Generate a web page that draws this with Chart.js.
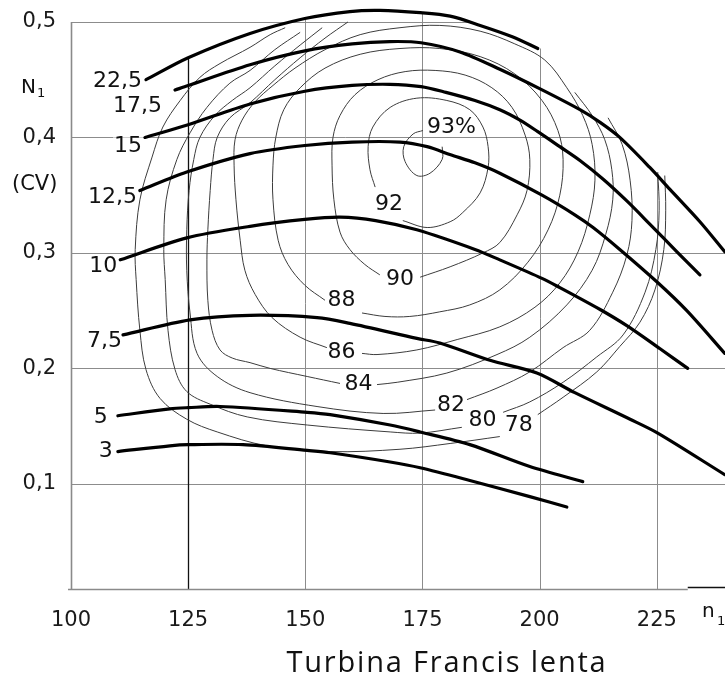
<!DOCTYPE html>
<html>
<head>
<meta charset="utf-8">
<script src="https://cdn.jsdelivr.net/npm/chart.js@4/dist/chart.umd.min.js"></script>
<style>
  html, body { margin: 0; padding: 0; background: #fff; }
  canvas { display: block; }
</style>
</head>
<body>
<canvas id="hill" width="725" height="681"></canvas>
<script>
// ---- axis ticks ----
const xTicks = [100, 125, 150, 175, 200, 225];
const yTicks = [0.1, 0.2, 0.3, 0.4, 0.5];

// ---- constant-opening curves: [n1, N1 (CV)] ----
const open22_5 = [[116.0,0.450],[125.0,0.469],[138.2,0.490],[149.9,0.503],[159.5,0.509],[165.9,0.510],[174.5,0.508],[180.9,0.505],[187.3,0.497],[194.3,0.487],[199.6,0.477]];
const open17_5 = [[122.2,0.441],[125.0,0.445],[138.2,0.463],[149.9,0.475],[160.0,0.481],[168.0,0.483],[174.7,0.482],[183.0,0.474],[191.5,0.459],[200.1,0.442],[208.6,0.424],[212.9,0.413],[217.1,0.400],[223.5,0.374],[227.8,0.355],[234.2,0.327],[239.5,0.301]];
const open15   = [[115.8,0.400],[125.0,0.411],[138.2,0.429],[149.9,0.440],[160.0,0.445],[168.0,0.446],[174.7,0.444],[180.0,0.439],[186.2,0.432],[191.5,0.424],[195.8,0.415],[199.6,0.405],[204.3,0.392],[208.6,0.380],[213.5,0.364],[218.6,0.345],[223.5,0.325],[229.3,0.301],[234.2,0.281]];
const open12_5 = [[114.7,0.354],[124.7,0.370],[138.2,0.386],[149.9,0.393],[160.0,0.396],[170.2,0.396],[176.0,0.392],[181.0,0.385],[186.2,0.378],[191.5,0.369],[200.5,0.350],[207.5,0.333],[211.4,0.322],[217.1,0.303],[225.0,0.275],[231.4,0.250],[239.5,0.213]];
const open10   = [[110.5,0.294],[124.7,0.313],[138.2,0.323],[149.9,0.329],[157.4,0.331],[165.0,0.328],[173.8,0.320],[186.2,0.303],[191.5,0.294],[200.5,0.278],[204.3,0.270],[212.9,0.251],[218.6,0.237],[225.7,0.217],[231.6,0.200]];
const open7_5  = [[111.1,0.229],[125.4,0.242],[138.2,0.246],[152.5,0.244],[159.5,0.239],[173.8,0.226],[178.7,0.222],[189.4,0.207],[199.4,0.196],[207.5,0.179],[219.3,0.156],[225.2,0.144],[239.5,0.108]];
const open5    = [[110.0,0.159],[121.1,0.165],[125.0,0.166],[131.8,0.167],[150.4,0.162],[155.3,0.160],[168.1,0.151],[174.5,0.145],[185.1,0.134],[197.9,0.115],[209.2,0.102]];
const open3    = [[110.0,0.128],[121.1,0.133],[125.0,0.134],[136.7,0.134],[150.4,0.129],[155.3,0.127],[168.1,0.119],[174.5,0.114],[185.1,0.103],[197.9,0.089],[205.8,0.080]];

const openingCurves = [
  { text: '22,5', pts: open22_5 },
  { text: '17,5', pts: open17_5 },
  { text: '15',   pts: open15 },
  { text: '12,5', pts: open12_5 },
  { text: '10',   pts: open10 },
  { text: '7,5',  pts: open7_5 },
  { text: '5',    pts: open5 },
  { text: '3',    pts: open3 }
];

// ---- efficiency contours (%) ----
const eff93 = [[179.2,0.392],[179.2,0.381],[176.6,0.369],[173.8,0.367],[171.3,0.379],[171.0,0.392],[173.0,0.403],[175.1,0.406]];
const eff92 = [[164.9,0.357],[163.8,0.372],[163.4,0.392],[164.4,0.409],[168.1,0.426],[173.8,0.434],[180.2,0.432],[185.1,0.424],[187.9,0.409],[189.0,0.392],[189.0,0.374],[187.3,0.352],[183.6,0.335],[180.9,0.327],[176.0,0.322],[170.8,0.328]];
const eff90 = [[165.9,0.281],[162.7,0.290],[159.5,0.303],[157.4,0.318],[156.1,0.346],[155.7,0.376],[155.9,0.400],[157.4,0.419],[160.6,0.437],[165.5,0.450],[171.3,0.457],[177.7,0.458],[184.1,0.454],[189.8,0.443],[194.1,0.426],[196.9,0.402],[197.9,0.381],[197.3,0.354],[195.2,0.333],[191.5,0.309],[187.9,0.300],[180.9,0.288],[174.5,0.279]];
const eff88 = [[154.2,0.259],[149.9,0.272],[146.3,0.290],[144.2,0.311],[143.1,0.346],[143.1,0.376],[143.7,0.400],[145.4,0.424],[148.9,0.443],[154.2,0.460],[161.7,0.472],[170.2,0.477],[178.7,0.477],[187.3,0.470],[194.7,0.455],[200.5,0.432],[203.9,0.406],[205.0,0.381],[204.3,0.350],[201.8,0.320],[197.5,0.292],[191.5,0.268],[185.1,0.255],[178.7,0.249],[172.3,0.245],[167.0,0.245],[162.1,0.248]];
const eff86 = [[154.6,0.218],[148.9,0.227],[142.9,0.244],[139.3,0.264],[137.1,0.285],[136.1,0.311],[135.2,0.346],[134.8,0.376],[135.0,0.398],[136.5,0.415],[139.3,0.431],[143.1,0.445],[147.8,0.460],[154.2,0.476],[161.7,0.489],[170.2,0.495],[178.7,0.497],[187.3,0.492],[194.7,0.481],[201.1,0.467],[205.8,0.443],[209.2,0.419],[211.2,0.394],[211.8,0.363],[210.7,0.333],[208.2,0.301],[204.3,0.274],[199.0,0.253],[191.5,0.236],[182.4,0.225],[173.8,0.216],[165.3,0.212],[162.1,0.213]];
const eff84a = [[157.4,0.187],[150.4,0.193],[142.5,0.200],[138.2,0.205],[134.4,0.209],[131.8,0.216],[130.1,0.233],[129.2,0.259],[129.0,0.294],[129.2,0.320],[129.7,0.354],[130.3,0.381],[131.2,0.400],[133.9,0.417],[138.2,0.430],[143.5,0.450],[148.9,0.469],[154.2,0.486],[159.1,0.500]];
const eff84b = [[207.5,0.439],[211.2,0.419],[213.9,0.398],[215.4,0.372],[215.6,0.346],[214.1,0.316],[211.2,0.285],[205.8,0.255],[197.9,0.227],[190.9,0.212],[180.2,0.196],[169.6,0.188],[165.3,0.186]];
const eff82a = [[177.7,0.164],[166.6,0.161],[152.5,0.167],[138.2,0.179],[131.2,0.193],[126.9,0.213],[125.4,0.248],[124.7,0.285],[124.7,0.320],[125.2,0.354],[126.2,0.381],[127.5,0.400],[130.7,0.419],[134.4,0.432],[138.2,0.443],[143.5,0.462],[148.9,0.480],[153.6,0.495]];
const eff82b = [[214.6,0.417],[217.6,0.394],[219.3,0.363],[219.7,0.328],[218.6,0.298],[215.6,0.266],[210.7,0.233],[205.0,0.218],[197.9,0.197],[190.9,0.183],[184.5,0.173]];
const eff80a = [[183.4,0.149],[174.5,0.144],[168.1,0.145],[150.4,0.151],[137.6,0.158],[129.7,0.169],[124.7,0.180],[122.2,0.199],[120.7,0.233],[120.1,0.277],[119.8,0.303],[120.3,0.346],[122.6,0.381],[125.4,0.404],[129.0,0.426],[133.9,0.447],[138.2,0.458],[143.5,0.476],[148.9,0.491]];
const eff80b = [[225.2,0.370],[225.5,0.337],[224.8,0.303],[222.5,0.266],[217.8,0.229],[212.2,0.210],[205.0,0.188],[197.9,0.171],[192.2,0.162]];
const eff78a = [[191.5,0.141],[180.9,0.135],[170.2,0.130],[155.3,0.128],[141.8,0.133],[131.2,0.145],[124.7,0.156],[119.0,0.174],[116.0,0.199],[114.7,0.233],[113.9,0.277],[113.7,0.303],[114.7,0.346],[117.3,0.383],[119.6,0.409],[123.3,0.432],[127.5,0.452],[131.8,0.464],[138.2,0.478],[142.5,0.489],[145.7,0.495]];
const eff78b = [[226.7,0.367],[226.9,0.337],[226.5,0.303],[224.6,0.268],[221.4,0.240],[217.1,0.219],[212.2,0.197],[205.0,0.175],[199.6,0.160]];

const efficiencyLevels = [
  { text: '93%', parts: [eff93] },
  { text: '92',  parts: [eff92] },
  { text: '90',  parts: [eff90] },
  { text: '88',  parts: [eff88] },
  { text: '86',  parts: [eff86] },
  { text: '84',  parts: [eff84a, eff84b] },
  { text: '82',  parts: [eff82a, eff82b] },
  { text: '80',  parts: [eff80a, eff80b] },
  { text: '78',  parts: [eff78a, eff78b] }
];

// ---- text ----
const xTitle = 'Turbina Francis lenta';
const yName = 'N';
const yUnit = '(CV)';
const xName = 'n';
const subOne = '1';

// ---- styling ----
const NUM_FONT = '"DejaVu Sans", Verdana, sans-serif';
const TITLE_FONT = '"Open Sans", "Noto Sans", sans-serif';
const GRID = '#8c8c8c';
// label offsets (pixels) relative to the curve start / contour gap
const curveLabelShift = { '22,5':[-4,2], '17,5':[-13,16], '15':[-3,9], '12,5':[-3,7], '10':[-3,6], '7,5':[-1,6], '5':[-10,2], '3':[-5,0] };
const contourLabelShift = { '93%':[19,-11], '90':[0,3], '88':[-2,-6], '86':[-3,2] };

const toXY = pts => pts.map(([x, y]) => ({ x, y }));

// interpolate a curve at n1, accepting a small overhang past its ends
function curveAt(pts, x, overhang) {
  const n = pts.length;
  if (x < pts[0][0] - overhang || x > pts[n - 1][0] + overhang) return null;
  if (x <= pts[0][0]) return pts[0][1];
  if (x >= pts[n - 1][0]) return pts[n - 1][1];
  for (let i = 1; i < n; i++) {
    if (x <= pts[i][0]) {
      const [x0, y0] = pts[i - 1], [x1, y1] = pts[i];
      return y0 + (y1 - y0) * (x - x0) / (x1 - x0);
    }
  }
  return null;
}
// upper envelope of the two largest openings: the grid stops there
function envelope(x) {
  let best = null;
  for (const c of [open22_5, open17_5]) {
    const v = curveAt(c, x, 1);
    if (v !== null && (best === null || v > best)) best = v;
  }
  return best;
}

const datasets = [];
openingCurves.forEach(c => datasets.push({
  label: c.text, data: toXY(c.pts),
  borderColor: '#000', borderWidth: 3.2, pointRadius: 0, tension: 0.3,
  borderCapStyle: 'round', borderJoinStyle: 'round', fill: false
}));
efficiencyLevels.forEach(lv => lv.parts.forEach(p => datasets.push({
  label: lv.text, data: toXY(p),
  borderColor: '#3c3c3c', borderWidth: 1, pointRadius: 0, tension: 0.35,
  fill: false
})));

function labelBox(ctx, text, xRight, yMid) {
  const w = ctx.measureText(text).width;
  ctx.fillStyle = '#fff';
  ctx.fillRect(xRight - w - 1, yMid - 9, w + 2, 18);
}

const hillFrame = {
  id: 'hillFrame',
  beforeDatasetsDraw(chart) {
    const { ctx, chartArea: a, scales: { x: xs, y: ys } } = chart;
    const px = v => xs.getPixelForValue(v);
    const py = v => ys.getPixelForValue(v);
    ctx.save();
    ctx.lineWidth = 1;
    // horizontal grid lines, cut at the envelope
    yTicks.forEach(v => {
      let xEnd = xs.max;
      for (let x = xs.max; x > xs.min; x -= 0.1) {
        const e = envelope(x);
        if (e === null || e >= v) { xEnd = x; break; }
      }
      const yy = Math.round(py(v)) + 0.5;
      ctx.strokeStyle = GRID;
      ctx.beginPath(); ctx.moveTo(a.left, yy); ctx.lineTo(px(xEnd), yy); ctx.stroke();
    });
    // vertical grid lines, starting at the envelope
    xTicks.slice(1).forEach(v => {
      const e = envelope(v);
      const top = e === null ? a.top : py(e);
      const xx = Math.round(px(v)) + 0.5;
      ctx.strokeStyle = v === 125 ? '#111' : GRID;
      ctx.lineWidth = v === 125 ? 1.3 : 1;
      ctx.beginPath(); ctx.moveTo(xx, top); ctx.lineTo(xx, a.bottom); ctx.stroke();
    });
    // axes
    ctx.strokeStyle = '#8a8a8a';
    ctx.lineWidth = 1.6;
    ctx.beginPath();
    ctx.moveTo(a.left + 0.5, py(yTicks[yTicks.length - 1]));
    ctx.lineTo(a.left + 0.5, a.bottom);
    ctx.moveTo(a.left - 3, a.bottom + 0.5);
    ctx.lineTo(px(231.6), a.bottom + 0.5);
    ctx.stroke();
    ctx.strokeStyle = '#111';
    ctx.lineWidth = 1.3;
    ctx.beginPath();
    ctx.moveTo(px(231.6), a.bottom - 1.5);
    ctx.lineTo(a.right, a.bottom - 1.5);
    ctx.stroke();
    // white knock-out behind the opening labels
    ctx.font = '22px ' + NUM_FONT;
    openingCurves.forEach(c => {
      const [dx, dy] = curveLabelShift[c.text];
      labelBox(ctx, c.text, px(c.pts[0][0]) + dx, py(c.pts[0][1]) + dy);
    });
    ctx.restore();
  },
  afterDatasetsDraw(chart) {
    const { ctx, scales: { x: xs, y: ys } } = chart;
    const px = v => xs.getPixelForValue(v);
    const py = v => ys.getPixelForValue(v);
    ctx.save();
    ctx.fillStyle = '#111';
    ctx.font = '22px ' + NUM_FONT;
    ctx.textBaseline = 'middle';
    // opening labels
    ctx.textAlign = 'right';
    openingCurves.forEach(c => {
      const [dx, dy] = curveLabelShift[c.text];
      ctx.fillText(c.text, px(c.pts[0][0]) + dx, py(c.pts[0][1]) + dy);
    });
    // efficiency labels, centred in each contour's gap
    ctx.textAlign = 'center';
    efficiencyLevels.forEach(lv => {
      const first = lv.parts[0][0];
      const lastPart = lv.parts[lv.parts.length - 1];
      const last = lastPart[lastPart.length - 1];
      const [dx, dy] = contourLabelShift[lv.text] || [0, 0];
      const cx = (px(first[0]) + px(last[0])) / 2 + dx;
      const cy = (py(first[1]) + py(last[1])) / 2 + dy;
      ctx.fillText(lv.text, cx, cy);
    });
    // axis names
    ctx.textAlign = 'left';
    ctx.textBaseline = 'alphabetic';
    ctx.font = '20px ' + NUM_FONT;
    ctx.fillText(yName, 21, 93);
    ctx.font = '13px ' + NUM_FONT;
    ctx.fillText(subOne, 37, 97);
    ctx.font = '21px ' + NUM_FONT;
    ctx.fillText(yUnit, 12, 190);
    ctx.font = '20px ' + NUM_FONT;
    ctx.fillText(xName, 702, 617);
    ctx.font = '13px ' + NUM_FONT;
    ctx.fillText(subOne, 717, 625);
    // chart title
    ctx.font = '29px ' + TITLE_FONT;
    ctx.textAlign = 'center';
    try { ctx.letterSpacing = '1.8px'; } catch (e) {}
    ctx.fillText(xTitle, 447, 672);
    ctx.restore();
  }
};

new Chart(document.getElementById('hill'), {
  type: 'line',
  data: { datasets },
  options: {
    responsive: false,
    animation: false,
    events: [],
    layout: { padding: 0, autoPadding: false },
    plugins: { legend: { display: false }, tooltip: { enabled: false }, title: { display: false } },
    scales: {
      x: {
        type: 'linear', min: 100, max: 239.55,
        grid: { display: false }, border: { display: false },
        afterBuildTicks: s => { s.ticks = xTicks.map(v => ({ value: v })); },
        afterFit: s => { s.height = 92; s.paddingLeft = 0; s.paddingRight = 0; },
        ticks: { color: '#1a1a1a', padding: 11, maxRotation: 0, autoSkip: false,
                 font: { family: NUM_FONT, size: 21 }, callback: v => String(v) }
      },
      y: {
        type: 'linear', min: 0.009, max: 0.519,
        grid: { display: false }, border: { display: false },
        afterBuildTicks: s => { s.ticks = yTicks.map(v => ({ value: v })); },
        afterFit: s => { s.width = 71; s.paddingTop = 0; s.paddingBottom = 0; },
        ticks: { color: '#1a1a1a', padding: 7, autoSkip: false,
                 font: { family: NUM_FONT, size: 21 },
                 callback: v => v.toFixed(1).replace('.', ',') }
      }
    }
  },
  plugins: [hillFrame]
});
</script>
</body>
</html>
